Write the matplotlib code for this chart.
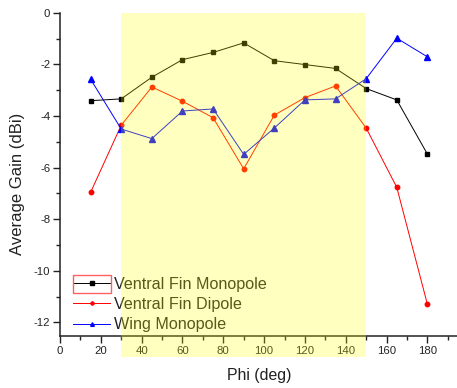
import matplotlib
matplotlib.use("Agg")
import matplotlib.pyplot as plt
from matplotlib.patches import Rectangle
from matplotlib.ticker import MultipleLocator

plt.rcParams['font.family'] = ['Liberation Sans', 'DejaVu Sans']

phi = [15, 30, 45, 60, 75, 90, 105, 120, 135, 150, 165, 180]
fin_monopole = [-3.41, -3.34, -2.50, -1.82, -1.54, -1.17, -1.86, -2.01, -2.16, -2.94, -3.38, -5.48]
fin_dipole = [-6.96, -4.36, -2.88, -3.43, -4.07, -6.05, -3.97, -3.29, -2.84, -4.47, -6.77, -11.30]
wing_monopole = [-2.58, -4.51, -4.88, -3.81, -3.73, -5.49, -4.47, -3.38, -3.34, -2.56, -0.99, -1.71]
labels = ["Ventral Fin Monopole", "Ventral Fin Dipole", "Wing Monopole"]
band = (30, 150)

W, H = 457, 388
fig = plt.figure(figsize=(W / 100, H / 100), dpi=100)
ax = fig.add_axes([60 / W, 1 - 336 / H, 1 - 60 / W, (336 - 12.7) / H])

lw = 0.7
ax.plot(phi, fin_monopole, color='black', marker='s', markersize=3.2, lw=lw, label=labels[0])
ax.plot(phi, fin_dipole, color='red', marker='o', markersize=3.2, lw=lw, label=labels[1])
ax.plot(phi, wing_monopole, color='blue', marker='^', markersize=3.8, lw=lw, label=labels[2])

ax.set_xlim(0, 194.5)
ax.set_ylim(-12.53, 0)
ax.xaxis.set_major_locator(MultipleLocator(20))
ax.xaxis.set_minor_locator(MultipleLocator(10))
ax.yaxis.set_major_locator(MultipleLocator(2))
ax.yaxis.set_minor_locator(MultipleLocator(1))
ax.set_xticks(range(0, 181, 20))
ax.set_yticks(range(-12, 1, 2))
ax.set_yticklabels([str(v) for v in range(-12, 1, 2)])

for s in ['top', 'right']:
    ax.spines[s].set_visible(False)
for s in ['left', 'bottom']:
    ax.spines[s].set_linewidth(1.1)
    ax.spines[s].set_color('#222222')
ax.tick_params(which='major', direction='out', length=5, width=1.0, labelsize=8.2, colors='#222222', pad=2)
ax.tick_params(which='minor', direction='out', length=3, width=1.0, colors='#222222')

ax.set_xlabel("Phi (deg)", fontsize=11.4, color='#222222')
ax.set_ylabel("Average Gain (dBi)", fontsize=12, color='#222222')
ax.xaxis.set_label_coords(0.501, -0.100)
ax.yaxis.set_label_coords(-0.088, 0.47)

leg = ax.legend(loc='upper left', bbox_to_anchor=(73 / W, 1 - 276.5 / H), bbox_transform=fig.transFigure,
                frameon=False, fontsize=11.6, handlelength=2.3, handletextpad=0.27,
                labelspacing=0.34, borderpad=0, borderaxespad=0, markerscale=0.7)
for t in leg.get_texts():
    t.set_color('#222222')

fig.patches.append(Rectangle((73 / W, 1 - 293 / H), 38 / W, 18 / H, transform=fig.transFigure,
                             fill=False, edgecolor='#ff6060', lw=1.0))

ybot = -13.35
ax.add_patch(Rectangle((band[0], ybot), band[1] - band[0], 0 - ybot, facecolor=(1, 1, 0),
                       alpha=0.25, edgecolor='none', zorder=20, clip_on=False))

fig.savefig("out.png", dpi=100)
